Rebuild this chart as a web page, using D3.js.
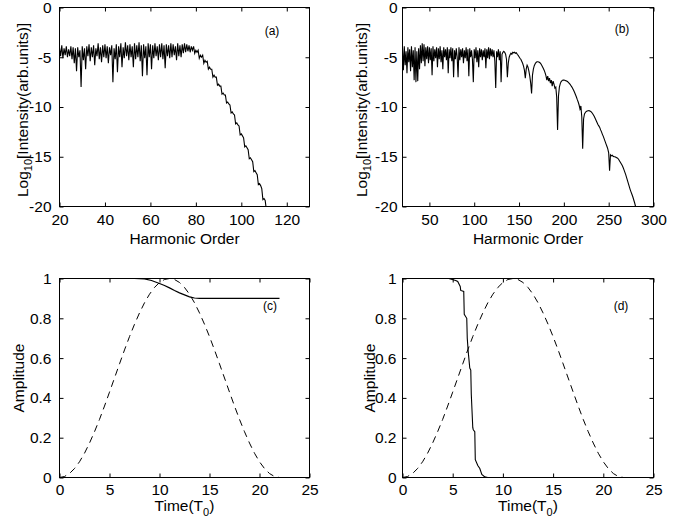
<!DOCTYPE html>
<html>
<head>
<meta charset="utf-8">
<script src="https://cdn.jsdelivr.net/npm/d3@7"></script>
<style>
body { margin: 0; background: #fff; }
svg { display: block; }
text { font-family: "Liberation Sans", Arial, Helvetica, sans-serif; fill: #000; }
</style>
</head>
<body>
<svg id="chart" width="694" height="525"></svg>
<script>
// (a) spectrum, harmonic orders 20..111 step 0.5
var orderStartA = 20, orderStepA = 0.5;
var intensityA = [
  -4.0,-4.9,-3.8,-5.1,-4.1,-4.8,-3.9,-5.0,-4.2,-4.9,   // 20
  -3.9,-5.2,-4.0,-5.6,-4.1,-6.4,-4.0,-5.0,-4.3,-8.0,   // 25
  -3.9,-5.3,-4.1,-6.2,-3.9,-4.9,-3.7,-5.4,-4.0,-5.0,   // 30
  -3.8,-5.8,-4.1,-4.9,-3.6,-5.2,-4.0,-5.5,-3.8,-5.0,   // 35
  -3.7,-5.1,-3.9,-5.6,-4.0,-4.8,-3.8,-7.5,-4.1,-5.2,   // 40
  -3.7,-6.5,-3.9,-5.0,-3.6,-6.0,-4.0,-5.1,-3.5,-4.9,   // 45
  -3.8,-5.3,-3.7,-5.0,-3.9,-6.0,-3.6,-5.2,-3.8,-5.0,   // 50
  -3.5,-5.4,-3.8,-6.9,-3.7,-5.1,-3.9,-6.8,-3.6,-5.0,   // 55
  -3.7,-6.2,-3.8,-5.1,-3.6,-4.9,-3.9,-5.3,-3.7,-5.0,   // 60
  -3.6,-5.2,-3.8,-6.1,-3.7,-4.9,-3.8,-5.1,-3.6,-5.0,   // 65
  -3.7,-4.8,-3.9,-5.3,-3.6,-4.9,-3.8,-5.0,-3.7,-4.6,   // 70
  -3.6,-4.5,-3.7,-4.4,-3.8,-4.5,-3.9,-4.3,-3.9,-4.6,   // 75
  -4.3,-4.5,-4.3,-5.1,-4.8,-5.0,-4.8,-5.6,-5.3,-5.5,   // 80
  -5.4,-6.2,-6.0,-6.2,-6.2,-7.0,-6.8,-7.0,-7.0,-7.8,   // 85
  -7.7,-7.9,-7.9,-8.7,-8.6,-8.8,-8.8,-9.6,-9.5,-9.7,   // 90
  -9.8,-10.6,-10.5,-10.7,-10.8,-11.7,-11.6,-11.8,-11.9,-12.8, // 95
  -12.7,-12.9,-13.1,-14.0,-13.9,-14.1,-14.3,-15.2,-15.1,-15.3, // 100
  -15.5,-16.5,-16.4,-16.6,-16.8,-17.8,-17.7,-17.9,-18.2,-19.3, // 105
  -19.2,-19.4,-20.3                                     // 110
];

// (b) spectrum, harmonic orders 20..280 step 1
var orderStartB = 20, orderStepB = 1;
var intensityB = [
  -4.1,-6.3,-3.9,-5.8,-4.4,-6.6,-4.0,-5.5,-4.2,-6.4,   // 20
  -3.9,-6.0,-4.3,-7.3,-4.0,-7.5,-4.4,-7.4,-4.1,-6.2,   // 30
  -3.8,-5.6,-3.6,-5.4,-3.7,-5.9,-4.0,-5.2,-3.9,-5.6,   // 40
  -4.0,-5.3,-4.1,-6.8,-3.9,-5.4,-4.2,-5.1,-4.0,-6.0,   // 50
  -4.1,-5.2,-3.9,-5.5,-4.3,-6.2,-4.0,-5.0,-4.2,-5.3,   // 60
  -4.0,-6.6,-4.2,-5.1,-4.0,-5.4,-4.1,-7.0,-4.3,-5.2,   // 70
  -4.1,-5.0,-7.0,-4.0,-5.3,-4.2,-5.0,-4.1,-5.6,-4.3,   // 80
  -5.1,-4.0,-5.4,-4.2,-6.9,-4.1,-5.0,-4.3,-5.2,-7.5,   // 90
  -4.2,-5.1,-4.0,-5.5,-4.3,-6.0,-4.1,-5.0,-4.2,-5.3,   // 100
  -4.3,-5.0,-4.1,-6.1,-4.2,-5.1,-4.0,-5.2,-4.1,-4.9,   // 110
  -4.2,-5.0,-4.3,-5.4,-8.1,-4.4,-5.0,-4.2,-5.3,-4.4,   // 120
  -7.5,-4.7,-4.5,-4.4,-4.5,-4.7,-5.2,-7.0,-5.6,-5.0,   // 130
  -4.75,-4.6,-4.7,-4.5,-4.55,-4.5,-4.6,-4.55,-4.7,-4.8, // 140
  -4.95,-5.1,-5.2,-5.4,-5.6,-5.9,-6.3,-7.1,-6.2,-5.8,  // 150
  -6.0,-6.4,-6.9,-7.6,-8.65,-6.8,-6.2,-5.85,-5.65,-5.52, // 160
  -5.46,-5.45,-5.47,-5.53,-5.62,-5.75,-5.92,-6.1,-6.3,-6.55, // 170
  -6.85,-7.3,-6.9,-7.4,-7.1,-7.6,-7.3,-7.9,-7.4,-7.7,  // 180
  -8.1,-8.0,-9.0,-12.3,-8.9,-8.0,-7.65,-7.45,-7.35,-7.3, // 190
  -7.3,-7.31,-7.35,-7.38,-7.44,-7.52,-7.62,-7.73,-7.86,-8.0, // 200
  -8.17,-8.35,-8.55,-8.77,-9.0,-9.26,-9.5,-9.8,-10.2,-9.9, // 210
  -11.0,-14.2,-11.2,-10.7,-10.55,-10.45,-10.4,-10.38,-10.37,-10.4, // 220
  -10.45,-10.55,-10.65,-10.8,-10.95,-11.15,-11.35,-11.55,-11.75,-11.9, // 230
  -12.05,-12.3,-12.5,-12.75,-12.95,-13.2,-13.45,-13.7,-13.95,-14.2, // 240
  -14.6,-16.4,-14.8,-14.9,-14.85,-14.95,-15.0,-15.0,-15.05,-15.1, // 250
  -15.15,-15.25,-15.4,-15.55,-15.7,-15.85,-16.05,-16.3,-16.55,-16.8, // 260
  -17.1,-17.4,-17.7,-18.0,-18.3,-18.55,-18.8,-19.05,-19.35,-19.65, // 270
  -20.0                                                 // 280
];

// laser envelope (dashed), same in (c) and (d)
var envelopeTime = d3.range(0, 22.01, 0.5);
var envelopeAmp = [
  0,0.005,0.02,0.045,0.079,0.122,0.173,0.23,0.292,0.359,0.429,0.5,
  0.571,0.641,0.708,0.77,0.827,0.878,0.921,0.955,0.98,0.995,1.0,
  0.995,0.98,0.955,0.921,0.878,0.827,0.77,0.708,0.641,0.571,0.5,
  0.429,0.359,0.292,0.23,0.173,0.122,0.079,0.045,0.02,0.005,0
];

// ground state amplitude (solid)
var groundTimeC = [0, 7.5, 8.5, 9.2, 10.0, 10.5, 11.0, 11.5, 12.0, 12.5, 13.0, 13.5, 14.0, 22.0];
var groundAmpC  = [1, 1, 0.998, 0.99, 0.975, 0.965, 0.953, 0.94, 0.928, 0.918, 0.908, 0.902, 0.90, 0.90];
var groundTimeD = [0, 4.6, 5.3, 5.5, 5.75, 5.8, 6.1, 6.15, 6.4, 6.45, 6.55, 6.7, 6.8, 6.85, 7.0, 7.05, 7.2, 7.25, 7.5, 7.7, 7.9, 8.2, 8.5, 11.3];
var groundAmpD  = [1, 1, 0.99, 0.985, 0.96, 0.94, 0.935, 0.82, 0.80, 0.70, 0.63, 0.55, 0.54, 0.42, 0.25, 0.24, 0.23, 0.09, 0.06, 0.045, 0.015, 0.003, 0, 0];

var ticksOrderA = [20, 40, 60, 80, 100, 120];
var ticksOrderB = [50, 100, 150, 200, 250, 300];
var ticksLog = [-20, -15, -10, -5, 0];
var ticksTime = [0, 5, 10, 15, 20, 25];
var ticksAmp = [0, 0.2, 0.4, 0.6, 0.8, 1];

function zipSeries(xs, ys) {
  return ys.map(function (v, i) { return [xs[i], v]; });
}
function spectrum(start, step, vals) {
  return vals.map(function (v, i) { return [start + i*step, v]; });
}

var panels = [
  { left: 59.5, right: 309.5, top: 7.5, bottom: 206.5, xDomain: [20, 130], yDomain: [-20, 0],
    xTicks: ticksOrderA, yTicks: ticksLog, yPad: 8, xPad: 7, titleGap: 37,
    tag: "(a)", tagX: 272, tagY: 35, xTitle: "Harmonic Order", yTitleX: 28, log: true,
    series: [{ points: spectrum(orderStartA, orderStepA, intensityA), width: 1.1 }] },
  { left: 402.5, right: 653.5, top: 7.5, bottom: 206.5, xDomain: [20, 300], yDomain: [-20, 0],
    xTicks: ticksOrderB, yTicks: ticksLog, yPad: 5, xPad: 7, titleGap: 37,
    tag: "(b)", tagX: 622, tagY: 33, xTitle: "Harmonic Order", yTitleX: 367, log: true,
    series: [{ points: spectrum(orderStartB, orderStepB, intensityB), width: 1.1 }] },
  { left: 59.5, right: 309.5, top: 278.5, bottom: 477.5, xDomain: [0, 25], yDomain: [0, 1],
    xTicks: ticksTime, yTicks: ticksAmp, yPad: 8, xPad: 6, titleGap: 33,
    tag: "(c)", tagX: 270, tagY: 310, xTitle: "Time", yTitleX: 24, log: false,
    series: [{ points: zipSeries(envelopeTime, envelopeAmp), dash: "7,5", width: 1 },
             { points: zipSeries(groundTimeC, groundAmpC), width: 1.2 }] },
  { left: 402.5, right: 653.5, top: 278.5, bottom: 477.5, xDomain: [0, 25], yDomain: [0, 1],
    xTicks: ticksTime, yTicks: ticksAmp, yPad: 6, xPad: 6, titleGap: 33,
    tag: "(d)", tagX: 621, tagY: 310, xTitle: "Time", yTitleX: 375, log: false,
    series: [{ points: zipSeries(envelopeTime, envelopeAmp), dash: "7,5", width: 1 },
             { points: zipSeries(groundTimeD, groundAmpD), width: 1.1 }] }
];

var svg = d3.select("#chart");
svg.append("rect").attr("width", 694).attr("height", 525).attr("fill", "#fff");

var fontSize = 15.5;
var fmt = function (d) { return String(d); };

function styleAxis(sel) {
  sel.attr("font-size", fontSize)
    .attr("font-family", "'Liberation Sans', Arial, Helvetica, sans-serif");
  sel.selectAll(".domain").remove();
  sel.selectAll(".tick line").attr("stroke", "#000");
}

function drawPanel(p, idx) {
  var x = d3.scaleLinear().domain(p.xDomain).range([p.left, p.right]);
  var y = d3.scaleLinear().domain(p.yDomain).range([p.bottom, p.top]);
  var g = svg.append("g");

  svg.append("clipPath").attr("id", "clip" + idx)
    .append("rect")
    .attr("x", p.left).attr("y", p.top)
    .attr("width", p.right - p.left).attr("height", p.bottom - p.top);

  var plot = g.append("g").attr("clip-path", "url(#clip" + idx + ")");
  var line = d3.line()
    .x(function (d) { return x(d[0]); })
    .y(function (d) { return y(d[1]); });
  p.series.forEach(function (s) {
    plot.append("path")
      .datum(s.points)
      .attr("d", line)
      .attr("fill", "none")
      .attr("stroke", "#000")
      .attr("stroke-width", s.width)
      .attr("stroke-dasharray", s.dash || null);
  });

  g.append("g").attr("transform", "translate(0," + p.bottom + ")")
    .call(d3.axisBottom(x).tickValues(p.xTicks).tickSizeInner(-4).tickSizeOuter(0).tickPadding(p.xPad).tickFormat(fmt))
    .call(styleAxis);
  g.append("g").attr("transform", "translate(0," + p.top + ")")
    .call(d3.axisTop(x).tickValues(p.xTicks).tickSizeInner(-4).tickSizeOuter(0).tickFormat(""))
    .call(styleAxis);
  g.append("g").attr("transform", "translate(" + p.left + ",0)")
    .call(d3.axisLeft(y).tickValues(p.yTicks).tickSizeInner(-4).tickSizeOuter(0).tickPadding(p.yPad).tickFormat(fmt))
    .call(styleAxis);
  g.append("g").attr("transform", "translate(" + p.right + ",0)")
    .call(d3.axisRight(y).tickValues(p.yTicks).tickSizeInner(-4).tickSizeOuter(0).tickFormat(""))
    .call(styleAxis);

  g.append("rect")
    .attr("x", p.left).attr("y", p.top)
    .attr("width", p.right - p.left).attr("height", p.bottom - p.top)
    .attr("fill", "none").attr("stroke", "#000").attr("stroke-width", 1);

  // x title
  var cx = (p.left + p.right)/2;
  var xt = g.append("text")
    .attr("x", cx).attr("y", p.bottom + p.titleGap)
    .attr("text-anchor", "middle")
    .attr("font-size", fontSize);
  if (p.log) {
    xt.text(p.xTitle);
  } else {
    xt.append("tspan").text("Time(T");
    xt.append("tspan").attr("font-size", 11).attr("dy", 5).text("0");
    xt.append("tspan").attr("dy", -5).text(")");
  }

  // y title
  var cy = (p.top + p.bottom)/2;
  var yt = g.append("text")
    .attr("transform", "translate(" + p.yTitleX + "," + (p.log ? cy + 3 : cy) + ") rotate(-90)")
    .attr("text-anchor", "middle")
    .attr("font-size", fontSize);
  if (p.log) {
    yt.append("tspan").text("Log");
    yt.append("tspan").attr("font-size", 11).attr("dy", 4).text("10");
    yt.append("tspan").attr("dy", -4).text("[Intensity(arb.units)]");
  } else {
    yt.text("Amplitude");
  }

  g.append("text")
    .attr("x", p.tagX).attr("y", p.tagY)
    .attr("text-anchor", "middle")
    .attr("font-size", 12)
    .text(p.tag);
}

panels.forEach(drawPanel);
</script>
</body>
</html>
